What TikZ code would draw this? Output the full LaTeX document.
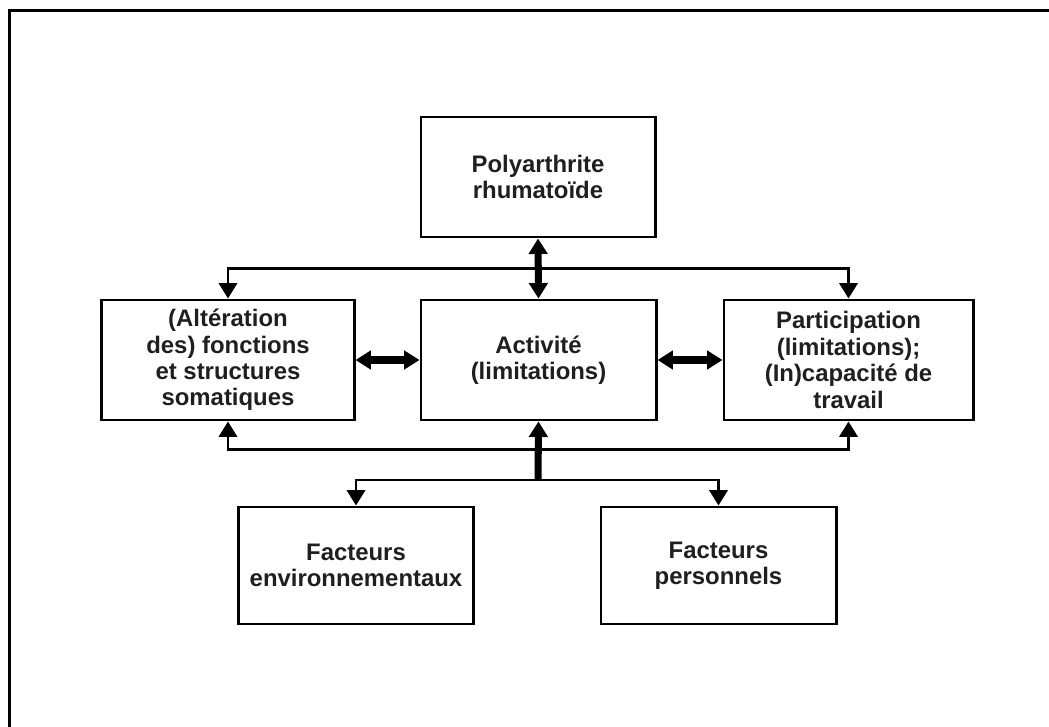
\documentclass[tikz,border=0pt]{standalone}
\usepackage{fontspec}
\setmainfont{Liberation Sans}
\usetikzlibrary{arrows.meta}
\begin{document}
\begin{tikzpicture}[x=0.025cm,y=-0.025cm,>={Triangle[length=11pt,width=13pt]},
		box/.style={draw,line width=2.1pt,inner sep=0pt,align=center,text=black!88,font=\bfseries\fontsize{17}{18.8}\selectfont},
		link/.style={line width=2.1pt},
		biglink/.style={line width=5pt}]
			\useasboundingbox (0,0) rectangle (1049,727);
			\draw[line width=2.1pt] (9.5,727)--(9.5,10.5)--(1049,10.5);
			\node[box,minimum width=5.85cm,minimum height=3cm] (P) at (538,177) {Polyarthrite\\rhumatoïde};
			\node[box,minimum width=6.3cm,minimum height=3cm] (F) at (228,360) {(Altération\\des) fonctions\\et structures\\somatiques};
			\node[box,minimum width=5.875cm,minimum height=3cm] (A) at (538.5,360) {Activité\\(limitations)};
			\node[box,minimum width=6.225cm,minimum height=3cm] (R) at (848.5,360) {Participation\\(limitations);\\(In)capacité de\\travail};
			\node[box,minimum width=5.85cm,minimum height=2.925cm] (E) at (356,565.5) {Facteurs\\environnementaux};
			\node[box,minimum width=5.875cm,minimum height=2.925cm] (Pe) at (718.5,565.5) {Facteurs\\personnels};
			\coordinate (J) at (538,480);
			\draw[link,<->] (F.north)--++(0,-30)-|(R.north);
			\draw[link,<->] (F.south)--++(0,28)-|(R.south);
			\draw[biglink,<->] (P.south)--(A.north);
			\draw[biglink,<->] (F.east)--(A.west);
			\draw[biglink,<->] (A.east)--(R.west);
			\draw[link,<->] (E.north)--(E.north|-J)--(Pe.north|-J)--(Pe.north);
			\draw[biglink,->] (J)--(A.south);
		\end{tikzpicture}
\end{document}
